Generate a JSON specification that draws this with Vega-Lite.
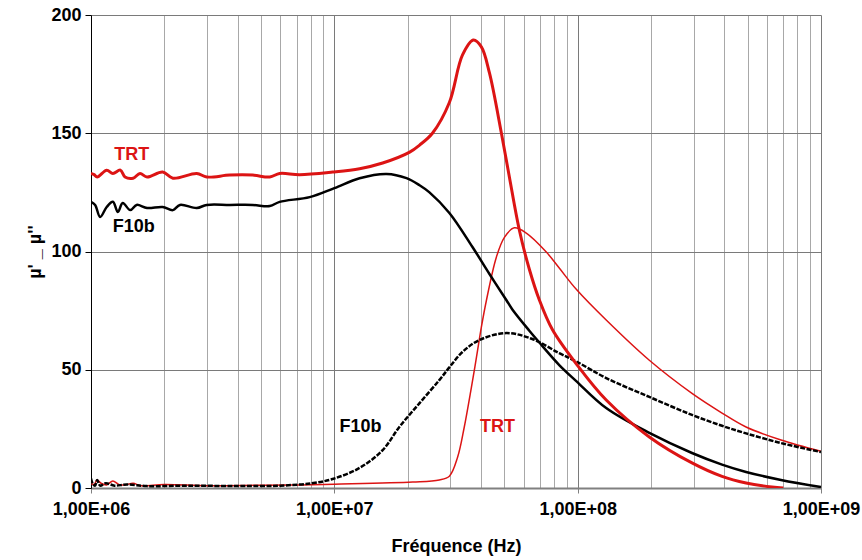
{
  "$schema": "https://vega.github.io/schema/vega-lite/v6.json",
  "width": 730,
  "height": 473,
  "autosize": "none",
  "padding": {"left": 91, "top": 15, "right": 41, "bottom": 72},
  "background": "white",
  "config": {
    "view": {"stroke": null},
    "font": "Liberation Sans"
  },
  "datasets": {
    "curves": [
      {"s": "TRT_mu1", "f": 1.0e6, "v": 133}, {"s": "TRT_mu1", "f": 1.03e6, "v": 132.5}, {"s": "TRT_mu1", "f": 1.06e6, "v": 131.5}, {"s": "TRT_mu1", "f": 1.16e6, "v": 134.4}, {"s": "TRT_mu1", "f": 1.23e6, "v": 133}, {"s": "TRT_mu1", "f": 1.32e6, "v": 134.4}, {"s": "TRT_mu1", "f": 1.38e6, "v": 131.5}, {"s": "TRT_mu1", "f": 1.49e6, "v": 131}, {"s": "TRT_mu1", "f": 1.59e6, "v": 133}, {"s": "TRT_mu1", "f": 1.70e6, "v": 131.5}, {"s": "TRT_mu1", "f": 1.97e6, "v": 133.6}, {"s": "TRT_mu1", "f": 2.17e6, "v": 131}, {"s": "TRT_mu1", "f": 2.72e6, "v": 133}, {"s": "TRT_mu1", "f": 2.99e6, "v": 131.5}, {"s": "TRT_mu1", "f": 3.72e6, "v": 132.3}, {"s": "TRT_mu1", "f": 4.62e6, "v": 132.3}, {"s": "TRT_mu1", "f": 5.43e6, "v": 131.5}, {"s": "TRT_mu1", "f": 5.96e6, "v": 133}, {"s": "TRT_mu1", "f": 7.2e6, "v": 132.5}, {"s": "TRT_mu1", "f": 9.84e6, "v": 133.6}, {"s": "TRT_mu1", "f": 1.27e7, "v": 135}, {"s": "TRT_mu1", "f": 1.58e7, "v": 137.4}, {"s": "TRT_mu1", "f": 2.04e7, "v": 142}, {"s": "TRT_mu1", "f": 2.24e7, "v": 145}, {"s": "TRT_mu1", "f": 2.53e7, "v": 150}, {"s": "TRT_mu1", "f": 2.97e7, "v": 163}, {"s": "TRT_mu1", "f": 3.36e7, "v": 183}, {"s": "TRT_mu1", "f": 3.73e7, "v": 189.4}, {"s": "TRT_mu1", "f": 4.02e7, "v": 186.5}, {"s": "TRT_mu1", "f": 4.34e7, "v": 175.5}, {"s": "TRT_mu1", "f": 4.86e7, "v": 150}, {"s": "TRT_mu1", "f": 5.24e7, "v": 131.5}, {"s": "TRT_mu1", "f": 5.76e7, "v": 109}, {"s": "TRT_mu1", "f": 6.33e7, "v": 92.5}, {"s": "TRT_mu1", "f": 6.96e7, "v": 79.5}, {"s": "TRT_mu1", "f": 7.87e7, "v": 67}, {"s": "TRT_mu1", "f": 9.87e7, "v": 52.5}, {"s": "TRT_mu1", "f": 1.31e8, "v": 37.2}, {"s": "TRT_mu1", "f": 1.97e8, "v": 21.6}, {"s": "TRT_mu1", "f": 2.95e8, "v": 10.6}, {"s": "TRT_mu1", "f": 3.92e8, "v": 4.9}, {"s": "TRT_mu1", "f": 4.92e8, "v": 2.1}, {"s": "TRT_mu1", "f": 6.29e8, "v": 0.4}, {"s": "TRT_mu1", "f": 7.0e8, "v": 0},

      {"s": "F10b_mu1", "f": 1.0e6, "v": 121}, {"s": "F10b_mu1", "f": 1.04e6, "v": 119.7}, {"s": "F10b_mu1", "f": 1.09e6, "v": 114.6}, {"s": "F10b_mu1", "f": 1.16e6, "v": 118.8}, {"s": "F10b_mu1", "f": 1.23e6, "v": 121}, {"s": "F10b_mu1", "f": 1.29e6, "v": 116.7}, {"s": "F10b_mu1", "f": 1.35e6, "v": 120.5}, {"s": "F10b_mu1", "f": 1.45e6, "v": 117.5}, {"s": "F10b_mu1", "f": 1.54e6, "v": 119.7}, {"s": "F10b_mu1", "f": 1.70e6, "v": 118.4}, {"s": "F10b_mu1", "f": 1.97e6, "v": 118.8}, {"s": "F10b_mu1", "f": 2.17e6, "v": 117.5}, {"s": "F10b_mu1", "f": 2.32e6, "v": 119.7}, {"s": "F10b_mu1", "f": 2.72e6, "v": 118.4}, {"s": "F10b_mu1", "f": 2.99e6, "v": 119.7}, {"s": "F10b_mu1", "f": 3.72e6, "v": 119.7}, {"s": "F10b_mu1", "f": 4.62e6, "v": 119.7}, {"s": "F10b_mu1", "f": 5.43e6, "v": 119.2}, {"s": "F10b_mu1", "f": 5.96e6, "v": 121}, {"s": "F10b_mu1", "f": 7.92e6, "v": 123}, {"s": "F10b_mu1", "f": 1.0e7, "v": 126.8}, {"s": "F10b_mu1", "f": 1.27e7, "v": 131}, {"s": "F10b_mu1", "f": 1.64e7, "v": 132.8}, {"s": "F10b_mu1", "f": 1.98e7, "v": 131}, {"s": "F10b_mu1", "f": 2.24e7, "v": 128}, {"s": "F10b_mu1", "f": 2.46e7, "v": 125}, {"s": "F10b_mu1", "f": 2.97e7, "v": 116.3}, {"s": "F10b_mu1", "f": 3.69e7, "v": 102}, {"s": "F10b_mu1", "f": 4.34e7, "v": 90.5}, {"s": "F10b_mu1", "f": 5.09e7, "v": 79.5}, {"s": "F10b_mu1", "f": 5.39e7, "v": 75.5}, {"s": "F10b_mu1", "f": 6.33e7, "v": 66.5}, {"s": "F10b_mu1", "f": 6.96e7, "v": 61.5}, {"s": "F10b_mu1", "f": 8.40e7, "v": 52}, {"s": "F10b_mu1", "f": 9.87e7, "v": 45.2}, {"s": "F10b_mu1", "f": 1.31e8, "v": 33.8}, {"s": "F10b_mu1", "f": 1.97e8, "v": 23.3}, {"s": "F10b_mu1", "f": 2.95e8, "v": 14.8}, {"s": "F10b_mu1", "f": 3.92e8, "v": 9.9}, {"s": "F10b_mu1", "f": 4.92e8, "v": 6.8}, {"s": "F10b_mu1", "f": 6.85e8, "v": 3.4}, {"s": "F10b_mu1", "f": 1.0e9, "v": 0.4},

      {"s": "F10b_mu2", "f": 1.0e6, "v": 4}, {"s": "F10b_mu2", "f": 1.02e6, "v": 1.5}, {"s": "F10b_mu2", "f": 1.04e6, "v": 1}, {"s": "F10b_mu2", "f": 1.06e6, "v": 3.4}, {"s": "F10b_mu2", "f": 1.09e6, "v": 1}, {"s": "F10b_mu2", "f": 1.15e6, "v": 2}, {"s": "F10b_mu2", "f": 1.25e6, "v": 1}, {"s": "F10b_mu2", "f": 1.4e6, "v": 1.5}, {"s": "F10b_mu2", "f": 1.7e6, "v": 0.8}, {"s": "F10b_mu2", "f": 2.5e6, "v": 1}, {"s": "F10b_mu2", "f": 4.0e6, "v": 0.8}, {"s": "F10b_mu2", "f": 6.0e6, "v": 1}, {"s": "F10b_mu2", "f": 8.07e6, "v": 2}, {"s": "F10b_mu2", "f": 9.84e6, "v": 3.8}, {"s": "F10b_mu2", "f": 1.27e7, "v": 8.5}, {"s": "F10b_mu2", "f": 1.58e7, "v": 16}, {"s": "F10b_mu2", "f": 1.85e7, "v": 25.8}, {"s": "F10b_mu2", "f": 2.24e7, "v": 35.9}, {"s": "F10b_mu2", "f": 2.70e7, "v": 45.6}, {"s": "F10b_mu2", "f": 2.97e7, "v": 51}, {"s": "F10b_mu2", "f": 3.36e7, "v": 57.5}, {"s": "F10b_mu2", "f": 3.95e7, "v": 62.6}, {"s": "F10b_mu2", "f": 5.09e7, "v": 65.5}, {"s": "F10b_mu2", "f": 6.51e7, "v": 63}, {"s": "F10b_mu2", "f": 8.40e7, "v": 57}, {"s": "F10b_mu2", "f": 9.87e7, "v": 53.5}, {"s": "F10b_mu2", "f": 1.31e8, "v": 46.5}, {"s": "F10b_mu2", "f": 1.97e8, "v": 38.5}, {"s": "F10b_mu2", "f": 2.95e8, "v": 30.9}, {"s": "F10b_mu2", "f": 3.92e8, "v": 26.3}, {"s": "F10b_mu2", "f": 4.92e8, "v": 23.1}, {"s": "F10b_mu2", "f": 6.85e8, "v": 19}, {"s": "F10b_mu2", "f": 1.0e9, "v": 15.2},

      {"s": "TRT_mu2", "f": 1.0e6, "v": 2}, {"s": "TRT_mu2", "f": 1.03e6, "v": 1.5}, {"s": "TRT_mu2", "f": 1.06e6, "v": 3.4}, {"s": "TRT_mu2", "f": 1.1e6, "v": 2}, {"s": "TRT_mu2", "f": 1.16e6, "v": 1.3}, {"s": "TRT_mu2", "f": 1.23e6, "v": 3}, {"s": "TRT_mu2", "f": 1.3e6, "v": 1.5}, {"s": "TRT_mu2", "f": 1.38e6, "v": 1.3}, {"s": "TRT_mu2", "f": 1.49e6, "v": 2}, {"s": "TRT_mu2", "f": 1.6e6, "v": 1}, {"s": "TRT_mu2", "f": 2.0e6, "v": 1.5}, {"s": "TRT_mu2", "f": 3.0e6, "v": 1}, {"s": "TRT_mu2", "f": 5.0e6, "v": 1.2}, {"s": "TRT_mu2", "f": 7.2e6, "v": 1.3}, {"s": "TRT_mu2", "f": 1.0e7, "v": 1.6}, {"s": "TRT_mu2", "f": 2.1e7, "v": 2.5}, {"s": "TRT_mu2", "f": 2.7e7, "v": 3.4}, {"s": "TRT_mu2", "f": 2.97e7, "v": 5}, {"s": "TRT_mu2", "f": 3.21e7, "v": 13}, {"s": "TRT_mu2", "f": 3.42e7, "v": 25.8}, {"s": "TRT_mu2", "f": 3.66e7, "v": 42.7}, {"s": "TRT_mu2", "f": 3.84e7, "v": 55.4}, {"s": "TRT_mu2", "f": 4.02e7, "v": 68}, {"s": "TRT_mu2", "f": 4.22e7, "v": 79.5}, {"s": "TRT_mu2", "f": 4.63e7, "v": 97.5}, {"s": "TRT_mu2", "f": 5.0e7, "v": 106}, {"s": "TRT_mu2", "f": 5.49e7, "v": 110}, {"s": "TRT_mu2", "f": 6.15e7, "v": 107.8}, {"s": "TRT_mu2", "f": 7.43e7, "v": 99.8}, {"s": "TRT_mu2", "f": 8.4e7, "v": 93}, {"s": "TRT_mu2", "f": 9.87e7, "v": 84}, {"s": "TRT_mu2", "f": 1.31e8, "v": 71}, {"s": "TRT_mu2", "f": 1.97e8, "v": 54}, {"s": "TRT_mu2", "f": 2.95e8, "v": 40}, {"s": "TRT_mu2", "f": 3.92e8, "v": 31.7}, {"s": "TRT_mu2", "f": 4.92e8, "v": 25.8}, {"s": "TRT_mu2", "f": 6.85e8, "v": 20.3}, {"s": "TRT_mu2", "f": 1.0e9, "v": 15.5}
    ],
    "labels": [
      {"t": "TRT", "f": 1.47e6, "v": 140.8, "c": "red"},
      {"t": "F10b", "f": 1.5e6, "v": 110.5, "c": "black"},
      {"t": "F10b", "f": 1.28e7, "v": 25.8, "c": "black"},
      {"t": "TRT", "f": 4.68e7, "v": 25.8, "c": "red"}
    ]
  },
  "layer": [
    {
      "data": {"name": "curves"},
      "transform": [{"filter": "datum.s === 'TRT_mu2'"}],
      "mark": {"type": "line", "color": "#dc1414", "strokeWidth": 1.5, "interpolate": "catmull-rom", "clip": true},
      "encoding": {
        "x": {
          "field": "f", "type": "quantitative",
          "scale": {"type": "log", "domain": [1000000, 1000000000], "nice": false},
          "axis": {
            "title": "Fréquence (Hz)",
            "values": [1000000, 2000000, 3000000, 4000000, 5000000, 6000000, 7000000, 8000000, 9000000, 10000000, 20000000, 30000000, 40000000, 50000000, 60000000, 70000000, 80000000, 90000000, 100000000, 200000000, 300000000, 400000000, 500000000, 600000000, 700000000, 800000000, 900000000, 1000000000],
            "labelExpr": "abs(log(datum.value)/LN10 - round(log(datum.value)/LN10)) < 0.001 ? '1,00E+0' + round(log(datum.value)/LN10) : ''",
            "labelFont": "Liberation Sans", "labelFontSize": 18, "labelFontWeight": "bold", "labelColor": "black",
            "labelPadding": 7, "labelFlush": false, "labelOverlap": false,
            "titleFont": "Liberation Sans", "titleFontSize": 18, "titleFontWeight": "bold", "titleColor": "black", "titlePadding": 19,
            "grid": true,
            "gridColor": {"condition": {"test": "abs(log(datum.value)/LN10 - round(log(datum.value)/LN10)) < 0.001", "value": "#7a7a7a"}, "value": "#a8a8a8"},
            "gridWidth": 1,
            "tickColor": "#808080", "tickSize": 5,
            "tickOpacity": {"condition": {"test": "abs(log(datum.value)/LN10 - round(log(datum.value)/LN10)) < 0.001", "value": 1}, "value": 0},
            "domainColor": "#808080", "domainWidth": 2
          }
        },
        "y": {
          "field": "v", "type": "quantitative",
          "scale": {"domain": [0, 200], "nice": false},
          "axis": {
            "title": "µ' _ µ''",
            "values": [0, 50, 100, 150, 200],
            "labelFont": "Liberation Sans", "labelFontSize": 18, "labelFontWeight": "bold", "labelColor": "black", "labelPadding": 4,
            "titleFont": "Liberation Sans", "titleFontSize": 18, "titleFontWeight": "bold", "titleColor": "black", "titlePadding": 6,
            "grid": true, "gridColor": "#7a7a7a", "gridWidth": 1,
            "tickColor": "black", "tickSize": 6,
            "domainColor": "black", "domainWidth": 1
          }
        }
      }
    },
    {
      "data": {"name": "curves"},
      "transform": [{"filter": "datum.s === 'F10b_mu2'"}],
      "mark": {"type": "line", "color": "black", "strokeWidth": 2.5, "strokeDash": [5, 1.5], "interpolate": "catmull-rom", "clip": true},
      "encoding": {"x": {"field": "f", "type": "quantitative"}, "y": {"field": "v", "type": "quantitative"}}
    },
    {
      "data": {"name": "curves"},
      "transform": [{"filter": "datum.s === 'F10b_mu1'"}],
      "mark": {"type": "line", "color": "black", "strokeWidth": 2.5, "interpolate": "catmull-rom", "clip": true},
      "encoding": {"x": {"field": "f", "type": "quantitative"}, "y": {"field": "v", "type": "quantitative"}}
    },
    {
      "data": {"name": "curves"},
      "transform": [{"filter": "datum.s === 'TRT_mu1'"}],
      "mark": {"type": "line", "color": "#dc1414", "strokeWidth": 3, "interpolate": "catmull-rom", "clip": true},
      "encoding": {"x": {"field": "f", "type": "quantitative"}, "y": {"field": "v", "type": "quantitative"}}
    },
    {
      "data": {"name": "labels"},
      "mark": {"type": "text", "font": "Liberation Sans", "fontSize": 18, "fontWeight": "bold", "align": "center", "baseline": "middle"},
      "encoding": {
        "x": {"field": "f", "type": "quantitative"},
        "y": {"field": "v", "type": "quantitative"},
        "text": {"field": "t"},
        "color": {"field": "c", "type": "nominal", "scale": {"domain": ["red", "black"], "range": ["#dc1414", "black"]}, "legend": null}
      }
    }
  ]
}
